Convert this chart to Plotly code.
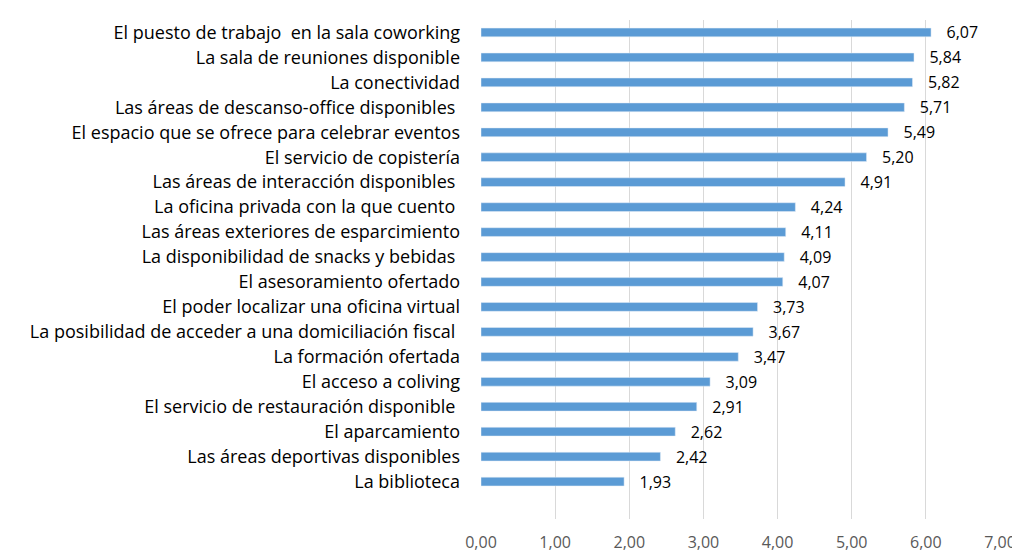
import plotly.graph_objects as go

aspectos = [
    "El puesto de trabajo  en la sala coworking",
    "La sala de reuniones disponible",
    "La conectividad",
    "Las áreas de descanso-office disponibles ",
    "El espacio que se ofrece para celebrar eventos",
    "El servicio de copistería",
    "Las áreas de interacción disponibles ",
    "La oficina privada con la que cuento ",
    "Las áreas exteriores de esparcimiento",
    "La disponibilidad de snacks y bebidas ",
    "El asesoramiento ofertado",
    "El poder localizar una oficina virtual",
    "La posibilidad de acceder a una domiciliación fiscal ",
    "La formación ofertada",
    "El acceso a coliving",
    "El servicio de restauración disponible ",
    "El aparcamiento",
    "Las áreas deportivas disponibles",
    "La biblioteca",
]
valoracion = [6.07, 5.84, 5.82, 5.71, 5.49, 5.20, 4.91, 4.24, 4.11, 4.09,
              4.07, 3.73, 3.67, 3.47, 3.09, 2.91, 2.62, 2.42, 1.93]

fig = go.Figure(go.Bar(
    x=valoracion,
    y=aspectos,
    orientation="h",
    width=0.35,
    marker_color="#5B9BD5",
    texttemplate="   %{x:.2f}",
    textposition="outside",
    constraintext="none",
    cliponaxis=False,
    textfont=dict(size=16, color="#000000"),
))

fig.update_layout(
    width=1020, height=557,
    margin=dict(l=473, r=18, t=12, b=33),
    paper_bgcolor="white", plot_bgcolor="white",
    separators=",.",
    font=dict(family="Open Sans, sans-serif"),
    showlegend=False,
)
fig.update_xaxes(
    range=[0, 7], dtick=1, tickformat=".2f",
    showgrid=True, gridcolor="#D9D9D9", gridwidth=1,
    zeroline=False, showline=False,
    tickfont=dict(size=16, color="#595959"),
    ticklabelstandoff=12,
)
fig.update_yaxes(
    categoryorder="array", categoryarray=aspectos[::-1],
    range=[-1.5, 18.5],
    showgrid=False, showline=False,
    tickfont=dict(size=18, color="#000000"),
    ticklabelstandoff=20,
)

fig.write_html("out.html")
